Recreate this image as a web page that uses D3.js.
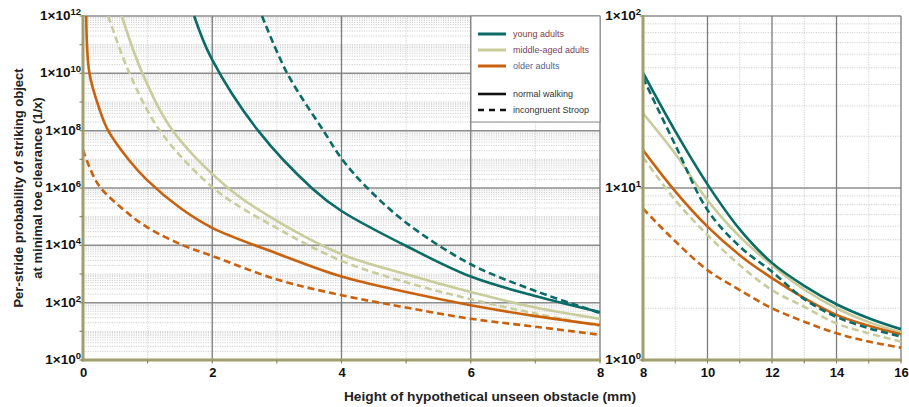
<!DOCTYPE html>
<html><head><meta charset="utf-8">
<script src="https://cdn.jsdelivr.net/npm/d3@7"></script>
<style>
body{margin:0;background:#fff}
svg{display:block;font-family:"Liberation Sans",Arial,Helvetica,sans-serif}
</style>
</head><body>
<svg id="c" width="909" height="407"></svg>
<script>
// ---------------- data ----------------
const xYoungNormal  = [1.72, 1.98, 2.71, 3.56, 4, 5, 6, 7, 8, 9, 10, 11, 12, 13, 14, 15, 16];
const yYoungNormal  = [1e12, 3.6e10, 1e8, 9.1e5, 1.58e5, 9.5e3, 813, 170, 46.8, 21.4, 10.5, 5.75, 3.67, 2.7, 2.11, 1.75, 1.51];
const xYoungStroop  = [2.77, 3.16, 3.72, 4.01, 4.37, 5, 6, 7, 8, 9, 10, 11, 12, 13, 14, 15, 16];
const yYoungStroop  = [1e12, 1e10, 1e8, 1e7, 1.17e6, 6.17e4, 2.19e3, 257, 43.7, 17.8, 7.45, 4.57, 3.26, 2.26, 1.78, 1.53, 1.37];
const xMiddleNormal = [0.6, 0.92, 1.39, 2.27, 3, 4, 5, 6, 7, 8, 9, 10, 11, 12, 13, 14, 15, 16];
const yMiddleNormal = [1e12, 1e10, 1e8, 9.1e5, 7.1e4, 4.9e3, 977, 234, 67.6, 27.2, 15.8, 8.5, 5.21, 3.56, 2.57, 2.0, 1.66, 1.45];
const xMiddleStroop = [0.39, 0.72, 1.19, 2.04, 3, 4, 5, 6, 7, 8, 9, 10, 11, 12, 13, 14, 15, 16];
const yMiddleStroop = [1e12, 1e10, 1e8, 9.1e5, 3.98e4, 2.88e3, 513, 132, 41.7, 15.1, 8.5, 5.33, 3.56, 2.55, 2.04, 1.63, 1.43, 1.28];
const xOlderNormal  = [0.05, 0.1, 0.26, 0.39, 0.72, 1.0, 1.5, 2, 3, 4, 5, 6, 7, 8, 9, 10, 11, 12, 13, 14, 15, 16];
const yOlderNormal  = [1e12, 1e10, 5.2e8, 1e8, 8.9e6, 1.8e6, 2.04e5, 4.07e4, 5.2e3, 813, 234, 81.3, 33.9, 16.6, 9.55, 5.96, 4.07, 2.99, 2.29, 1.83, 1.58, 1.41];
const xOlderStroop  = [0, 0.23, 0.62, 1.0, 1.55, 2, 3, 4, 5, 6, 7, 8, 9, 10, 11, 12, 13, 14, 15, 16];
const yOlderStroop  = [2.14e7, 1.38e6, 1.82e5, 4.17e4, 1.0e4, 4.27e3, 646, 182, 67.6, 27.5, 14.5, 7.59, 4.9, 3.33, 2.55, 2.0, 1.67, 1.43, 1.28, 1.18];

const groupNames = ["young adults", "middle-aged adults", "older adults"];
const conditionNames = ["normal walking", "incongruent Stroop"];
const leftXTicks = [0, 2, 4, 6, 8];
const rightXTicks = [8, 10, 12, 14, 16];
const leftYExponents = [0, 2, 4, 6, 8, 10, 12];
const rightYExponents = [0, 1, 2];
const xTitle = "Height of hypothetical unseen obstacle (mm)";
const yTitle1 = "Per-stride probability of striking object";
const yTitle2 = "at minimal toe clearance (1/x)";

// ---------------- styling ----------------
const groupColors = ["#0b6b66", "#c9cc9b", "#c8620f"];
const legendTextColors = ["#8a3b33", "#7a3f5c", "#4f6690"];
const olive = "#a29f6e";
const series = [
  {x: xYoungNormal,  y: yYoungNormal,  g: 0, dash: false},
  {x: xMiddleNormal, y: yMiddleNormal, g: 1, dash: false},
  {x: xOlderNormal,  y: yOlderNormal,  g: 2, dash: false},
  {x: xYoungStroop,  y: yYoungStroop,  g: 0, dash: true},
  {x: xMiddleStroop, y: yMiddleStroop, g: 1, dash: true},
  {x: xOlderStroop,  y: yOlderStroop,  g: 2, dash: true}
];
const drawOrder = [4, 1, 5, 2, 3, 0];

const svg = d3.select("#c");
const defs = svg.append("defs");

function panel(id, P, x, y, loExp, hiExp, majorExps, labelExps, xTicks, xLo, xHi) {
  const g = svg.append("g");
  const minorVals = [];
  for (let k = loExp; k < hiExp; k++) {
    for (let m = 1; m <= 9; m++) {
      if (m === 1 && (majorExps.includes(k))) continue;
      if (m === 1 && k === loExp) continue;
      minorVals.push(m * Math.pow(10, k));
    }
  }
  g.selectAll(".hmin").data(minorVals).join("line")
    .attr("x1", P.x0).attr("x2", P.x1)
    .attr("y1", d => y(d)).attr("y2", d => y(d))
    .attr("stroke", "#c4c4c4").attr("stroke-width", 0.8).attr("stroke-dasharray", "1.2,1.2");
  const vMinor = d3.range(xLo + 1, xHi, 2);
  g.selectAll(".vmin").data(vMinor).join("line")
    .attr("x1", d => x(d)).attr("x2", d => x(d))
    .attr("y1", P.y0).attr("y2", P.y1)
    .attr("stroke", "#c8c8c8").attr("stroke-width", 0.8).attr("stroke-dasharray", "1.2,1.2");
  const hMajor = majorExps.filter(e => e > loExp).map(e => Math.pow(10, e));
  g.selectAll(".hmaj").data(hMajor).join("line")
    .attr("x1", P.x0).attr("x2", P.x1)
    .attr("y1", d => y(d)).attr("y2", d => y(d))
    .attr("stroke", "#8e8e8e").attr("stroke-width", 1.5);
  const vMajor = d3.range(xLo + 2, xHi + 0.001, 2);
  g.selectAll(".vmaj").data(vMajor).join("line")
    .attr("x1", d => x(d)).attr("x2", d => x(d))
    .attr("y1", P.y0).attr("y2", P.y1)
    .attr("stroke", "#7c7c7c").attr("stroke-width", 1.3);

  defs.append("clipPath").attr("id", id).append("rect")
    .attr("x", P.x0).attr("y", P.y0 - 1).attr("width", P.x1 - P.x0).attr("height", P.y1 - P.y0 + 1);

  const line = d3.line().x(d => x(d[0])).y(d => y(d[1])).curve(d3.curveCatmullRom.alpha(0.5));
  const cg = g.append("g").attr("clip-path", `url(#${id})`);
  drawOrder.forEach(i => {
    const s = series[i];
    const pts = s.x.map((v, j) => [v, s.y[j]]).filter(p => p[0] >= xLo - 1e-9 && p[0] <= xHi + 1e-9);
    cg.append("path").attr("d", line(pts))
      .attr("fill", "none").attr("stroke", groupColors[s.g])
      .attr("stroke-width", 2.6)
      .attr("stroke-dasharray", s.dash ? "7,4" : null);
  });

  g.append("line").attr("x1", P.x0).attr("x2", P.x0).attr("y1", P.y0 - 1).attr("y2", P.y1 + 1.5)
    .attr("stroke", olive).attr("stroke-width", 3);
  g.append("line").attr("x1", P.x0 - 1.5).attr("x2", P.x1 + 1).attr("y1", P.y1).attr("y2", P.y1)
    .attr("stroke", olive).attr("stroke-width", 3);
  g.selectAll(".xt").data(d3.range(xLo + 1, xHi + 0.001, 1)).join("line")
    .attr("x1", d => x(d)).attr("x2", d => x(d)).attr("y1", P.y1).attr("y2", P.y1 + 3.5)
    .attr("stroke", "#8d8a5c").attr("stroke-width", 1.2);
  g.selectAll(".yt").data(d3.range(loExp, hiExp + 1).map(e => Math.pow(10, e))).join("line")
    .attr("x1", P.x0 - 3.5).attr("x2", P.x0).attr("y1", d => y(d)).attr("y2", d => y(d))
    .attr("stroke", "#8d8a5c").attr("stroke-width", 1.2);

  const ax = g.append("g").attr("transform", `translate(0,${P.y1})`)
    .call(d3.axisBottom(x).tickValues(xTicks).tickSize(0).tickPadding(8).tickFormat(d3.format("d")));
  ax.select(".domain").remove();
  ax.selectAll("text").attr("font-size", 13).attr("font-weight", "bold").attr("fill", "#111")
    .attr("font-family", "'Liberation Sans',Arial,sans-serif");

  const ay = g.append("g").attr("transform", `translate(${P.x0},0)`)
    .call(d3.axisLeft(y).tickValues(labelExps.map(e => Math.pow(10, e))).tickSize(0).tickPadding(2).tickFormat(""));
  ay.select(".domain").remove();
  ay.selectAll(".tick text").each(function(d) {
    const t = d3.select(this).text(null)
      .attr("font-family", "'Liberation Sans',Arial,sans-serif")
      .attr("font-weight", "bold").attr("fill", "#111").attr("dy", "0.36em");
    t.append("tspan").attr("font-size", 13.5).text("1×10");
    t.append("tspan").attr("font-size", 9.5).attr("dy", -5).text(Math.round(Math.log10(d)));
  });
}

const L = {x0: 83, x1: 600, y0: 16, y1: 360};
const R = {x0: 643, x1: 901, y0: 16, y1: 360};
const xL = d3.scaleLinear().domain([0, 8]).range([L.x0, L.x1]);
const yL = d3.scaleLog().domain([1, 1e12]).range([L.y1, L.y0]);
const xR = d3.scaleLinear().domain([8, 16]).range([R.x0, R.x1]);
const yR = d3.scaleLog().domain([1, 100]).range([R.y1, R.y0]);

panel("clipL", L, xL, yL, 0, 12, [2, 4, 6, 8, 10, 12], leftYExponents, leftXTicks, 0, 8);
panel("clipR", R, xR, yR, 0, 2, [1, 2], rightYExponents, rightXTicks, 8, 16);

// ---------------- legend ----------------
const lg = svg.append("g");
lg.append("rect").attr("x", 471).attr("y", 16).attr("width", 129).attr("height", 106)
  .attr("fill", "#fff").attr("stroke", "#8a8a8a").attr("stroke-width", 1);
const rowsY = [34, 50, 66];
groupNames.forEach((n, i) => {
  lg.append("line").attr("x1", 478).attr("x2", 506).attr("y1", rowsY[i]).attr("y2", rowsY[i])
    .attr("stroke", groupColors[i]).attr("stroke-width", 3);
  lg.append("text").attr("x", 513).attr("y", rowsY[i]).attr("dy", "0.35em")
    .attr("font-size", 9).attr("fill", legendTextColors[i]).text(n);
});
const condY = [94, 110];
conditionNames.forEach((n, i) => {
  lg.append("line").attr("x1", 478).attr("x2", 506).attr("y1", condY[i]).attr("y2", condY[i])
    .attr("stroke", "#111").attr("stroke-width", 2.6).attr("stroke-dasharray", i ? "6,5" : null);
  lg.append("text").attr("x", 513).attr("y", condY[i]).attr("dy", "0.35em")
    .attr("font-size", 9).attr("fill", "#333").text(n);
});

// ---------------- titles ----------------
svg.append("text").attr("x", 490).attr("y", 401).attr("text-anchor", "middle")
  .attr("font-size", 13.7).attr("font-weight", "bold").attr("fill", "#222").text(xTitle);
svg.append("text").attr("transform", "translate(23,188) rotate(-90)").attr("text-anchor", "middle")
  .attr("font-size", 13).attr("font-weight", "bold").attr("fill", "#222").text(yTitle1);
svg.append("text").attr("transform", "translate(42,188) rotate(-90)").attr("text-anchor", "middle")
  .attr("font-size", 13).attr("font-weight", "bold").attr("fill", "#222").text(yTitle2);
</script>
</body></html>
